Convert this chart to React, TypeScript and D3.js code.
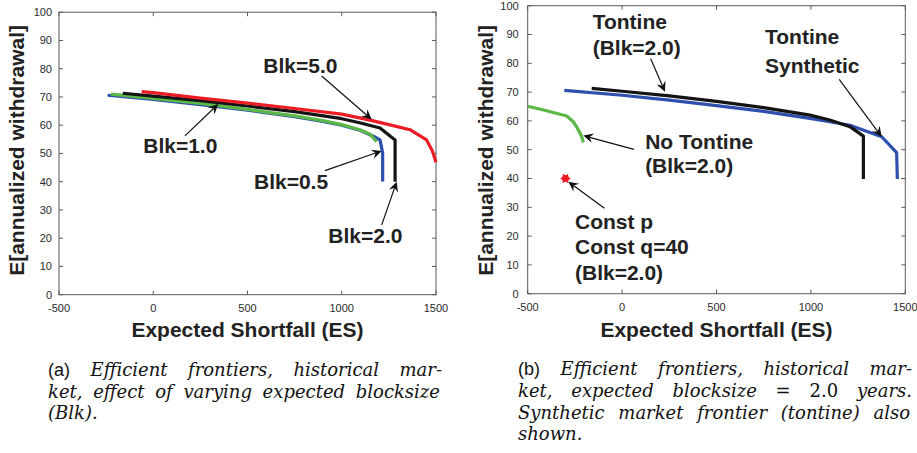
import React, { useMemo } from 'react';
import * as d3 from 'd3';

type Pt = [number, number];

// ---------- Panel (a): effect of expected blocksize ----------
const blk05: Pt[] = [[-242, 70.6], [0, 69.1], [250, 67.3], [500, 65.3], [750, 63.0], [900, 61.3], [1000, 60.0], [1100, 58.1], [1170, 56.0], [1203, 54.8], [1217, 50.1], [1217, 40.1]];
const blk10: Pt[] = [[-224, 71.0], [0, 69.5], [250, 67.7], [500, 65.6], [750, 63.3], [900, 61.6], [1000, 60.2], [1100, 58.3], [1150, 56.8], [1185, 54.2]];
const blk20: Pt[] = [[-162, 71.3], [0, 70.3], [250, 68.7], [500, 66.8], [750, 64.8], [1000, 62.3], [1100, 60.8], [1203, 59.0], [1283, 54.8], [1283, 40.0]];
const blk50: Pt[] = [[-61, 71.9], [0, 71.5], [250, 69.6], [500, 67.8], [750, 65.9], [1000, 63.9], [1150, 61.8], [1250, 60.2], [1362, 58.4], [1450, 54.8], [1480, 51.0], [1500, 46.9]];

// ---------- Panel (b): tontine vs no tontine ----------
const tontine20: Pt[] = [[-161, 71.3], [0, 70.3], [250, 68.7], [500, 66.8], [750, 64.6], [995, 62.0], [1100, 60.3], [1207, 58.0], [1278, 54.7], [1278, 39.8]];
const tontineSynthetic: Pt[] = [[-306, 70.6], [0, 68.9], [250, 67.2], [500, 65.3], [750, 63.3], [995, 60.9], [1100, 59.7], [1207, 58.5], [1375, 54.5], [1454, 49.0], [1458, 39.8]];
const noTontine20: Pt[] = [[-500, 65.1], [-400, 63.5], [-293, 61.7], [-260, 59.8], [-241, 58.0], [-225, 56.0], [-214, 54.5], [-205, 52.5]];
const constPoint: Pt[] = [[-300, 40]];

const xTicks = [-500, 0, 500, 1000, 1500];
const yTicks = [0, 10, 20, 30, 40, 50, 60, 70, 80, 90, 100];
const xDomain: Pt = [-500, 1500];
const yDomain: Pt = [0, 100];
const xLabel = 'Expected Shortfall (ES)';
const yLabel = 'E[annualized withdrawal]';

const RED = '#ec1c24';
const BLACK = '#141414';
const BLUE = '#2f4fae';
const GREEN = '#5bb846';

type Series = { data: Pt[]; color: string };
type Arrow = { from: Pt; to: Pt };
type Label = { x: number; y: number; text: string };

const seriesA: Series[] = [
  { data: blk05, color: BLUE },
  { data: blk10, color: GREEN },
  { data: blk20, color: BLACK },
  { data: blk50, color: RED },
];
const arrowsA: Arrow[] = [
  { from: [893.6, 77.4], to: [1159, 62.0] },
  { from: [168, 56.2], to: [345, 67.5] },
  { from: [911, 43.9], to: [1212, 50.9] },
  { from: [1212, 24.7], to: [1291.5, 40.0] },
];
const labelsA: Label[] = [
  { x: 584, y: 78.5, text: 'Blk=5.0' },
  { x: -53, y: 50.2, text: 'Blk=1.0' },
  { x: 534.5, y: 37.4, text: 'Blk=0.5' },
  { x: 928.6, y: 18.4, text: 'Blk=2.0' },
];

const seriesB: Series[] = [
  { data: noTontine20, color: GREEN },
  { data: tontineSynthetic, color: BLUE },
  { data: tontine20, color: BLACK },
];
const arrowsB: Arrow[] = [
  { from: [151.5, 81.6], to: [227, 70.1] },
  { from: [1150, 74.4], to: [1375, 54.5] },
  { from: [63, 50.1], to: [-205.5, 54.9] },
  { from: [-94, 29.7], to: [-285, 38.9] },
];
const labelsB: Label[] = [
  { x: -156, y: 91.8, text: 'Tontine' },
  { x: -156, y: 82.9, text: '(Blk=2.0)' },
  { x: 757, y: 86.7, text: 'Tontine' },
  { x: 757, y: 76.7, text: 'Synthetic' },
  { x: 122, y: 50.2, text: 'No Tontine' },
  { x: 122, y: 41.8, text: '(Blk=2.0)' },
  { x: -249.5, y: 22.6, text: 'Const p' },
  { x: -249.5, y: 13.7, text: 'Const q=40' },
  { x: -249.5, y: 4.8, text: '(Blk=2.0)' },
];

const SANS = '"Liberation Sans", Arial, Helvetica, sans-serif';
const SERIF = '"DejaVu Serif", serif';
const CAP_SERIF = 18;
const CAP_SANS = 18;

type Frame = { left: number; right: number; top: number; bottom: number; yLabX: number; yTickGap: number; xTickY: number };

function Panel({ frame, series, arrows, labels, points }: { frame: Frame; series: Series[]; arrows: Arrow[]; labels: Label[]; points?: Pt[] }) {
  const x = d3.scaleLinear().domain(xDomain).range([frame.left, frame.right]);
  const y = d3.scaleLinear().domain(yDomain).range([frame.bottom, frame.top]);
  const line = d3.line<Pt>().x(d => x(d[0])).y(d => y(d[1]));
  const tl = 4;
  const axisColor = '#595959';
  const cx = (frame.left + frame.right) / 2;
  return (
    <g>
      <rect x={frame.left} y={frame.top} width={frame.right - frame.left} height={frame.bottom - frame.top} fill="none" stroke={axisColor} strokeWidth={1} />
      {xTicks.map(t => (
        <g key={'x' + t}>
          <line x1={x(t)} x2={x(t)} y1={frame.bottom} y2={frame.bottom - tl} stroke={axisColor} />
          <line x1={x(t)} x2={x(t)} y1={frame.top} y2={frame.top + tl} stroke={axisColor} />
          <text x={x(t)} y={frame.xTickY} textAnchor="middle" fontFamily={SANS} fontSize={11} fill="#2b2b2b">{t}</text>
        </g>
      ))}
      {yTicks.map(t => (
        <g key={'y' + t}>
          <line x1={frame.left} x2={frame.left + tl} y1={y(t)} y2={y(t)} stroke={axisColor} />
          <line x1={frame.right} x2={frame.right - tl} y1={y(t)} y2={y(t)} stroke={axisColor} />
          <text x={frame.left - frame.yTickGap} y={y(t)} dy="0.35em" textAnchor="end" fontFamily={SANS} fontSize={11} fill="#2b2b2b">{t}</text>
        </g>
      ))}
      {series.map((s, i) => (
        <path key={i} d={line(s.data) || ''} fill="none" stroke={s.color} strokeWidth={3.2} strokeLinejoin="round" />
      ))}
      {(points || []).map((p, i) => (
        <g key={'p' + i} transform={`translate(${x(p[0])},${y(p[1])})`}>
          <circle r={3.6} fill={RED} />
          {[0, 60, 120].map(a => (
            <line key={a} x1={-4.8 * Math.cos((a * Math.PI) / 180)} y1={-4.8 * Math.sin((a * Math.PI) / 180)} x2={4.8 * Math.cos((a * Math.PI) / 180)} y2={4.8 * Math.sin((a * Math.PI) / 180)} stroke={RED} strokeWidth={1.6} />
          ))}
        </g>
      ))}
      {arrows.map((a, i) => {
        const x0 = x(a.from[0]), y0 = y(a.from[1]), x1 = x(a.to[0]), y1 = y(a.to[1]);
        const ang = Math.atan2(y1 - y0, x1 - x0);
        const L = 10, Wd = 4.8, notch = 6.5;
        const ux = Math.cos(ang), uy = Math.sin(ang);
        const px = -uy, py = ux;
        const bx = x1 - L * ux, by = y1 - L * uy;
        const nx = x1 - notch * ux, ny = y1 - notch * uy;
        const pts = [[x1, y1], [bx + Wd * px, by + Wd * py], [nx, ny], [bx - Wd * px, by - Wd * py]];
        return (
          <g key={'a' + i}>
            <line x1={x0} y1={y0} x2={nx} y2={ny} stroke="#111" strokeWidth={1.2} />
            <polygon points={pts.map(p => p.join(',')).join(' ')} fill="#111" />
          </g>
        );
      })}
      {labels.map((l, i) => (
        <text key={'l' + i} x={x(l.x)} y={y(l.y)} fontFamily={SANS} fontWeight="bold" fontSize={21} fill="#222">{l.text}</text>
      ))}
      <text x={cx} y={337} textAnchor="middle" fontFamily={SANS} fontWeight="bold" fontSize={21} fill="#222">{xLabel}</text>
      <text transform={`translate(${frame.yLabX},${150.4}) rotate(-90)`} textAnchor="middle" fontFamily={SANS} fontWeight="bold" fontSize={21} fill="#222">{yLabel}</text>
    </g>
  );
}

type Seg = { text: string; kind: 'sans' | 'ital' | 'rom' };
type CapLine = { segs: Seg[]; x0: number; x1?: number; y: number };

const fontFor = (k: Seg['kind']) =>
  k === 'sans' ? `${CAP_SANS}px ${SANS}` : k === 'ital' ? `italic ${CAP_SERIF}px ${SERIF}` : `${CAP_SERIF}px ${SERIF}`;

const ital = (s: string): Seg[] => s.split(' ').map(t => ({ text: t, kind: 'ital' as const }));

const captionA: CapLine[] = [
  { segs: [{ text: '(a)', kind: 'sans' }, ...ital('Efficient frontiers, historical mar-')], x0: 48, x1: 442, y: 375.5 },
  { segs: ital('ket, effect of varying expected blocksize'), x0: 48, x1: 440, y: 397.5 },
  { segs: ital('(Blk).'), x0: 48, y: 418.5 },
];
const captionB: CapLine[] = [
  { segs: [{ text: '(b)', kind: 'sans' }, ...ital('Efficient frontiers, historical mar-')], x0: 518, x1: 912, y: 374.5 },
  { segs: [...ital('ket, expected blocksize'), { text: '=', kind: 'rom' }, { text: '2.0', kind: 'rom' }, ...ital('years.')], x0: 518, x1: 912, y: 396.5 },
  { segs: ital('Synthetic market frontier (tontine) also'), x0: 518, x1: 910, y: 418.5 },
  { segs: ital('shown.'), x0: 518, y: 440 },
];

function Caption({ lines }: { lines: CapLine[] }) {
  const laid = useMemo(() => {
    const ctx = document.createElement('canvas').getContext('2d')!;
    return lines.map(l => {
      const widths = l.segs.map(s => {
        ctx.font = fontFor(s.kind);
        return ctx.measureText(s.text).width;
      });
      let gap: number;
      if (l.x1 !== undefined && l.segs.length > 1) {
        const total = widths.reduce((a, b) => a + b, 0);
        gap = (l.x1 - l.x0 - total) / (l.segs.length - 1);
      } else {
        ctx.font = fontFor('ital');
        gap = ctx.measureText(' ').width;
      }
      let cur = l.x0;
      return l.segs.map((s, i) => {
        const pos = cur;
        cur += widths[i] + gap;
        return { ...s, x: pos, y: l.y };
      });
    });
  }, [lines]);
  return (
    <g>
      {laid.flat().map((s, i) => (
        <text key={i} x={s.x} y={s.y} fontFamily={s.kind === 'sans' ? SANS : SERIF} fontStyle={s.kind === 'ital' ? 'italic' : 'normal'} fontSize={s.kind === 'sans' ? CAP_SANS : CAP_SERIF} fill="#111">{s.text}</text>
      ))}
    </g>
  );
}

const frameA: Frame = { left: 59, right: 436, top: 12.2, bottom: 294.7, yLabX: 24, yTickGap: 7, xTickY: 312 };
const frameB: Frame = { left: 527.7, right: 905.3, top: 5.7, bottom: 293.7, yLabX: 492.5, yTickGap: 9, xTickY: 311 };

export default function App() {
  return (
    <svg width={917} height={453} viewBox="0 0 917 453" style={{ position: 'absolute', left: 0, top: 0, background: '#fff', display: 'block' }}>
      <rect width={917} height={453} fill="#fff" />
      <Panel frame={frameA} series={seriesA} arrows={arrowsA} labels={labelsA} />
      <Panel frame={frameB} series={seriesB} arrows={arrowsB} labels={labelsB} points={constPoint} />
      <Caption lines={captionA} />
      <Caption lines={captionB} />
    </svg>
  );
}
